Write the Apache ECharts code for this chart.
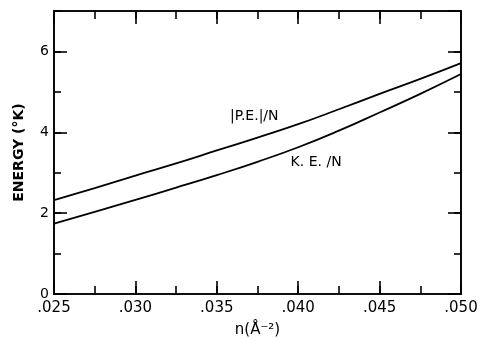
<!DOCTYPE html>
<html><head><meta charset="utf-8">
<script src="https://cdn.jsdelivr.net/npm/echarts@6/dist/echarts.min.js"></script>
<style>html,body{margin:0;padding:0;background:#fff}#c{width:479px;height:339px}</style>
</head><body><div id="c"></div>
<script>
var density = [0.025, 0.0275, 0.030, 0.0325, 0.035, 0.0375, 0.040, 0.0425, 0.045, 0.0475, 0.050];
var peN = [2.32, 2.62, 2.93, 3.23, 3.55, 3.87, 4.20, 4.57, 4.95, 5.32, 5.71];
var keN = [1.74, 2.03, 2.33, 2.63, 2.94, 3.27, 3.63, 4.04, 4.49, 4.95, 5.44];
var peLabel = {text: '|P.E.|/N', x: 0.0373, y: 4.40};
var keLabel = {text: 'K. E. /N', x: 0.0411, y: 3.26};
var xTitle = 'n(Å⁻²)';
var yTitle = 'ENERGY (°K)';

var FONT = 'DejaVu Sans';
var gridRect = {left: 54, right: 18, top: 11, bottom: 45, containLabel: false, outerBoundsMode: 'none'};
function pairs(xs, ys){ return xs.map(function(x,i){return [x, ys[i]];}); }
function fmtX(v){ return v.toFixed(3).replace(/^0\./, '.'); }

var lineStyleAx = {color: '#000', width: 1.6};
function ax(grid, pos, min, max, interval, tickLen, extra){
  return Object.assign({
    gridIndex: grid, type: 'value', position: pos, min: min, max: max, interval: interval,
    axisLine: {show: true, onZero: false, lineStyle: lineStyleAx},
    axisTick: {show: true, inside: true, length: tickLen, lineStyle: lineStyleAx},
    axisLabel: {show: false}, splitLine: {show: false}
  }, extra || {});
}
var chart = echarts.init(document.getElementById('c'));
chart.setOption({
  animation: false,
  backgroundColor: '#fff',
  grid: [Object.assign({}, gridRect), Object.assign({}, gridRect)],
  xAxis: [
    ax(0, 'bottom', 0.025, 0.050, 0.005, 13, {
      axisLabel: {show: true, formatter: fmtX, color: '#000', fontFamily: FONT, fontSize: 15, margin: 7},
      name: xTitle, nameLocation: 'middle', nameGap: 29,
      nameTextStyle: {color: '#000', fontFamily: FONT, fontSize: 15}}),
    ax(0, 'top', 0.025, 0.050, 0.005, 13),
    ax(1, 'bottom', 0.025, 0.050, 0.0025, 8),
    ax(1, 'top', 0.025, 0.050, 0.0025, 8)
  ],
  yAxis: [
    ax(0, 'left', 0, 7, 2, 13, {
      axisLabel: {show: true, showMaxLabel: false, color: '#000', fontFamily: FONT, fontSize: 14, margin: 5},
      name: yTitle, nameLocation: 'middle', nameGap: 28, nameRotate: 90,
      nameTextStyle: {color: '#000', fontFamily: FONT, fontSize: 14, fontWeight: 'bold'}}),
    ax(0, 'right', 0, 7, 2, 13),
    ax(1, 'left', 0, 7, 1, 7),
    ax(1, 'right', 0, 7, 1, 7)
  ],
  series: [
    {type: 'line', xAxisIndex: 0, yAxisIndex: 0, data: pairs(density, peN), smooth: true,
     symbol: 'none', lineStyle: {color: '#000', width: 1.8},
     markPoint: {symbol: 'circle', symbolSize: 0, silent: true,
       label: {show: true, position: 'inside', formatter: peLabel.text, color: '#000', fontFamily: FONT, fontSize: 14},
       data: [{coord: [peLabel.x, peLabel.y]}]}},
    {type: 'line', xAxisIndex: 0, yAxisIndex: 0, data: pairs(density, keN), smooth: true,
     symbol: 'none', lineStyle: {color: '#000', width: 1.8},
     markPoint: {symbol: 'circle', symbolSize: 0, silent: true,
       label: {show: true, position: 'inside', formatter: keLabel.text, color: '#000', fontFamily: FONT, fontSize: 14},
       data: [{coord: [keLabel.x, keLabel.y]}]}}
  ]
});
</script></body></html>
